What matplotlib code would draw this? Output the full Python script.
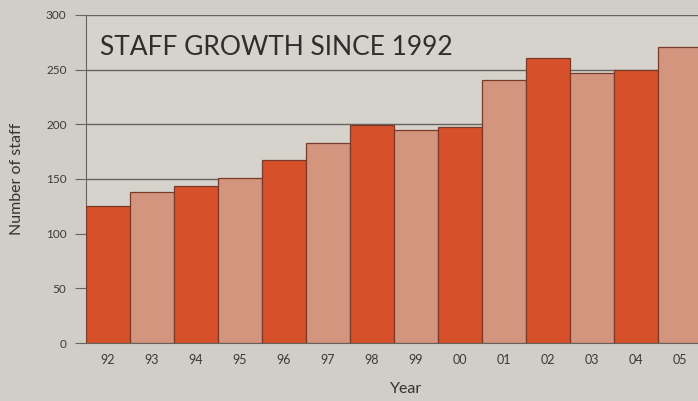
from matplotlib import pyplot as plt
import numpy as np

################################################################################
# Staff growth since 1992
################################################################################

years = ["92", "93", "94", "95", "96", "97", "98", "99", "00", "01", "02", "03", "04", "05"]
staff = [125, 138, 144, 151, 167, 183, 199, 195, 198, 241, 261, 247, 250, 271]

dark = "#d6512a"
light = "#d3957e"
bg = "#d1cec8"
grid_col = "#67635f"

plt.rcParams["font.family"] = ["Lato", "DejaVu Sans"]

fig = plt.figure(figsize=(6.98, 4.01), dpi=100)
fig.patch.set_facecolor(bg)
ax = fig.add_axes([86 / 698, 1 - 343 / 401, 616 / 698, 328 / 401])
ax.set_facecolor("#d6d3cd")

x = np.arange(len(years))
colors = [dark if i % 2 == 0 else light for i in range(len(years))]
ax.bar(x, staff, width=1.0, color=colors, edgecolor="#7a3a2a", linewidth=0.9, zorder=3)

ax.set_xlim(-0.5, len(years) - 0.5)
ax.set_ylim(0, 300)
ax.set_yticks(np.arange(0, 301, 50))
ax.set_xticks(x)
ax.set_xticklabels(years)

ax.yaxis.grid(True, color=grid_col, linewidth=1.0, zorder=1)
ax.set_axisbelow(True)
for s in ["top", "right"]:
    ax.spines[s].set_visible(False)
ax.spines["left"].set_color(grid_col)
ax.spines["bottom"].set_color(grid_col)
ax.tick_params(axis="y", length=8, color=grid_col, labelsize=8.5, labelcolor="#3a3a3a", pad=6)
ax.tick_params(axis="x", length=0, labelsize=9, labelcolor="#3a3a3a", pad=8)

ax.set_xlabel("Year", fontsize=11.5, color="#333333")
ax.xaxis.set_label_coords(0.52, -0.12)
ax.set_ylabel("Number of staff", fontsize=11.5, color="#333333")
ax.yaxis.set_label_coords(-0.1, 0.5)

ax.text(0.022, 0.9, "STAFF GROWTH SINCE 1992", transform=ax.transAxes,
        fontsize=19, color="#2e2e2e", va="center", ha="left", zorder=5)

plt.savefig("out.png", dpi=100, facecolor=bg)
